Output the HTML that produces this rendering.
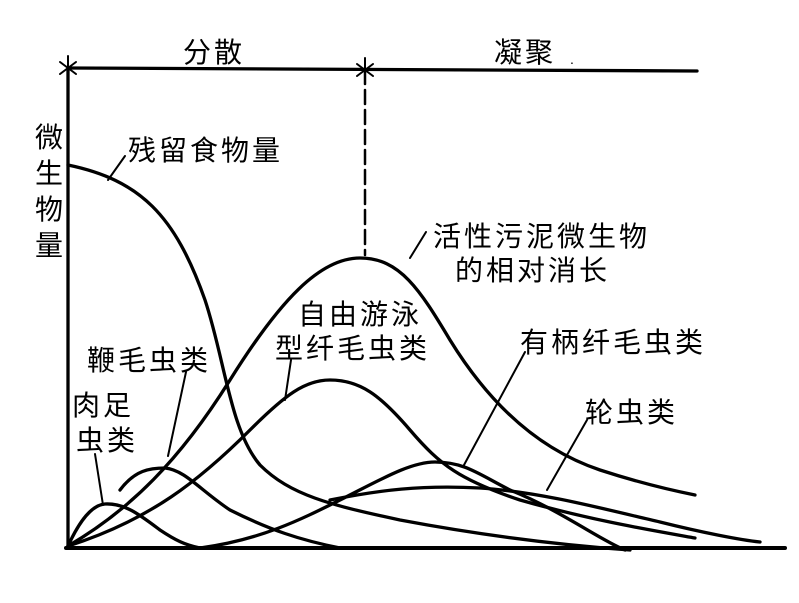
<!DOCTYPE html>
<html><head><meta charset="utf-8"><style>
html,body{margin:0;padding:0;background:#fff;}
svg{display:block}
text{font-family:"Liberation Sans","Noto Sans CJK SC",sans-serif;fill:#000;}
</style></head><body>
<svg width="799" height="603" viewBox="0 0 799 603" xmlns="http://www.w3.org/2000/svg">
<g stroke="#000" fill="none" stroke-width="3.3" stroke-linecap="round">
<line x1="68" y1="68" x2="68" y2="548"/>
<line x1="66" y1="548" x2="785" y2="548" stroke-width="4"/>
<line x1="68" y1="68" x2="697" y2="71"/>
<g stroke-width="2">
<line x1="68" y1="56" x2="68" y2="80"/><line x1="60" y1="62" x2="76" y2="74"/><line x1="60" y1="74" x2="76" y2="62"/>
<line x1="365" y1="58" x2="365" y2="82"/><line x1="357" y1="64" x2="373" y2="76"/><line x1="357" y1="76" x2="373" y2="64"/>
</g>
<line x1="365" y1="70" x2="365" y2="255" stroke-dasharray="14,6" stroke-width="2.5"/>
<path d="M68,165 C140,180 175,215 205,300 C225,360 230,430 260,465 C290,495 330,505 400,520 C480,535 560,545 630,550"/>
<path d="M68,546 C130,510 180,460 230,380 C280,300 320,258 360,258 C400,258 420,290 450,340 C490,405 540,450 600,470 C640,483 670,490 695,495"/>
<path d="M68,546 C150,520 200,480 250,430 C285,395 305,380 330,380 C360,380 380,395 410,430 C440,465 460,480 520,500 C590,520 650,530 695,538"/>
<path d="M120,490 C135,470 150,468 165,468 C185,470 200,490 230,510 C270,530 300,540 340,548"/>
<path d="M68,546 C80,520 92,505 105,504 C125,503 140,515 160,530 C175,540 185,545 200,548"/>
<path d="M200,548 C260,540 300,520 340,500 C380,480 410,462 435,462 C465,462 480,475 510,490 C560,510 600,540 625,550"/>
<path d="M330,500 C380,490 420,485 480,488 C540,492 600,508 660,522 C700,532 740,540 760,542"/>
<g stroke-width="2">
<line x1="108" y1="180" x2="125" y2="156"/>
<line x1="410" y1="258" x2="426" y2="232"/>
<line x1="168" y1="456" x2="186" y2="372"/>
<line x1="103" y1="505" x2="95" y2="454"/>
<line x1="285" y1="400" x2="291" y2="360"/>
<line x1="464" y1="465" x2="525" y2="352"/>
<line x1="547" y1="490" x2="587" y2="420"/>
</g>
</g>
<g font-size="28" letter-spacing="3">
<text x="183" y="62">分散</text>
<text x="494" y="62">凝聚</text>
<text x="570" y="64" font-size="14">.</text>
<text x="128" y="160">残留食物量</text>
<text x="35" y="147">微</text>
<text x="35" y="183">生</text>
<text x="35" y="219">物</text>
<text x="35" y="255">量</text>
<text x="433" y="246">活性污泥微生物</text>
<text x="455" y="280">的相对消长</text>
<text x="298" y="324">自由游泳</text>
<text x="275" y="358">型纤毛虫类</text>
<text x="87" y="370">鞭毛虫类</text>
<text x="72" y="415">肉足</text>
<text x="76" y="450">虫类</text>
<text x="520" y="352">有柄纤毛虫类</text>
<text x="585" y="422">轮虫类</text>
</g>
</svg>
</body></html>
